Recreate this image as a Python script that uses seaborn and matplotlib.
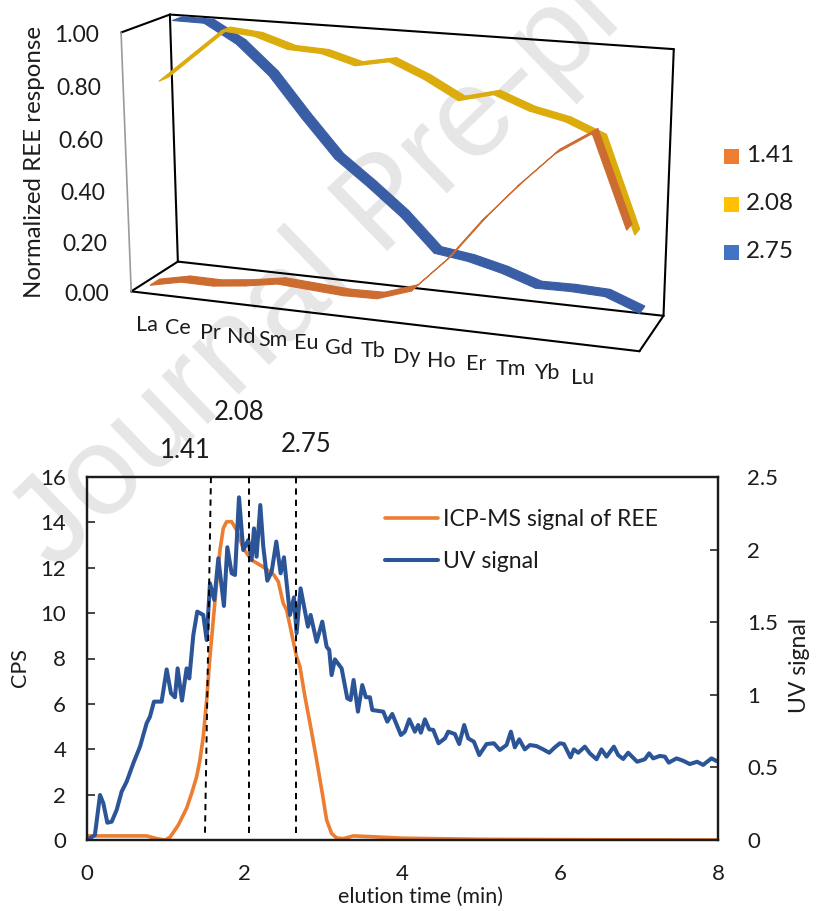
import numpy as np
import matplotlib
matplotlib.use("Agg")
import matplotlib.pyplot as plt
from matplotlib.patches import Rectangle
import seaborn as sns

# top chart data (15 positions along the axis, 14 labels shown)
elements = ["La", "Ce", "Pr", "Nd", "Sm", "Eu", "Gd", "Tb", "Dy", "Ho", "Er", "Tm", "Yb", "Lu"]
resp_141 = [0.023, 0.050, 0.049, 0.064, 0.086, 0.078, 0.070, 0.073, 0.117, 0.246, 0.407, 0.548, 0.676, 0.760, 0.427]
resp_208 = [0.790, 0.895, 1.000, 0.988, 0.948, 0.942, 0.906, 0.930, 0.876, 0.807, 0.839, 0.790, 0.762, 0.709, 0.372]
resp_275 = [1.000, 0.998, 0.927, 0.815, 0.660, 0.515, 0.418, 0.314, 0.185, 0.167, 0.135, 0.091, 0.093, 0.088, 0.038]
resp_ticks = [0.0, 0.2, 0.4, 0.6, 0.8, 1.0]

# bottom chart data
icp_time = [0, 0.756, 0.883, 0.989, 1.052, 1.158, 1.263, 1.327, 1.39, 1.432, 1.474, 1.517, 1.559, 1.601, 1.643, 1.686, 1.728,
            1.77, 1.834, 1.897, 1.981, 2.087, 2.214, 2.319, 2.37, 2.425, 2.488, 2.531, 2.657, 2.70, 2.763, 2.835, 2.911,
            2.983, 3.038, 3.101, 3.164, 3.249, 3.376, 3.587, 4.0, 5.0, 6.5, 8.0]
icp_cps = [0.18, 0.18, 0.06, 0, 0.12, 0.66, 1.40, 2.06, 2.79, 3.53, 4.55, 6.17, 8.08, 9.70, 11.31, 12.78, 13.74,
           14.03, 14.03, 13.66, 12.86, 12.34, 12.08, 11.83, 11.68, 11.39, 10.43, 10.14, 8.08, 7.64, 6.32, 5.0, 3.53,
           2.06, 0.88, 0.29, 0.09, 0.06, 0.18, 0.15, 0.08, 0.03, 0.01, 0.0]
uv_time = [0, 0.10, 0.165, 0.207, 0.258, 0.313, 0.376, 0.439, 0.503, 0.587, 0.672, 0.756, 0.798, 0.849, 0.946,
           1.010, 1.065, 1.115, 1.149, 1.204, 1.263, 1.297, 1.348, 1.398, 1.474, 1.517, 1.559, 1.614, 1.665,
           1.736, 1.779, 1.834, 1.876, 1.927, 1.981, 2.045, 2.087, 2.117, 2.150, 2.197, 2.235, 2.286, 2.341,
           2.400, 2.455, 2.497, 2.573, 2.624, 2.657, 2.708, 2.801, 2.835, 2.911, 2.983, 3.038, 3.071, 3.101,
           3.143, 3.228, 3.300, 3.342, 3.380, 3.435, 3.490, 3.536, 3.587, 3.617, 3.756, 3.807, 3.870, 3.980,
           4.030, 4.086, 4.157, 4.199, 4.233, 4.284, 4.339, 4.390, 4.457, 4.538, 4.580, 4.664, 4.719, 4.782,
           4.833, 4.905, 4.973, 5.066, 5.159, 5.234, 5.319, 5.374, 5.424, 5.480, 5.551, 5.615, 5.699, 5.784,
           5.860, 5.931, 5.995, 6.046, 6.130, 6.173, 6.228, 6.312, 6.375, 6.460, 6.523, 6.587, 6.680, 6.734,
           6.798, 6.861, 6.975, 7.072, 7.127, 7.178, 7.262, 7.326, 7.376, 7.474, 7.558, 7.642, 7.735, 7.811,
           7.917, 8.0]
uv_signal = [0, 0.034, 0.310, 0.253, 0.119, 0.126, 0.207, 0.333, 0.402, 0.528, 0.643, 0.804, 0.849, 0.953, 0.953,
             1.175, 1.010, 0.983, 1.182, 0.960, 1.182, 1.113, 1.412, 1.573, 1.550, 1.377, 1.768, 1.653, 1.940,
             1.612, 2.016, 1.837, 1.825, 2.360, 1.997, 2.066, 1.928, 2.146, 1.951, 2.307, 2.020, 1.786, 1.848,
             2.055, 1.837, 1.947, 1.550, 1.671, 1.424, 1.733, 1.469, 1.550, 1.365, 1.504, 1.331, 1.309, 1.136,
             1.244, 1.182, 0.976, 0.964, 1.102, 0.884, 1.067, 0.983, 0.983, 0.895, 0.884, 0.815, 0.868, 0.723,
             0.746, 0.831, 0.746, 0.792, 0.739, 0.831, 0.762, 0.758, 0.666, 0.700, 0.746, 0.730, 0.661, 0.792,
             0.700, 0.677, 0.585, 0.661, 0.666, 0.620, 0.654, 0.746, 0.638, 0.693, 0.624, 0.654, 0.647, 0.624,
             0.601, 0.638, 0.666, 0.661, 0.569, 0.624, 0.601, 0.643, 0.597, 0.556, 0.624, 0.574, 0.643, 0.585,
             0.558, 0.601, 0.539, 0.556, 0.597, 0.562, 0.579, 0.574, 0.533, 0.562, 0.546, 0.523, 0.539, 0.517,
             0.562, 0.539]

# frame corners of the 3d box in pixels: (x, value, depth) -> (px, py)
box_world = [(0, 0, 0), (0, 1, 0), (1, 0, 0), (1, 1, 0), (0, 0, 1), (0, 1, 1), (1, 0, 1), (1, 1, 1)]
box_px = [(131, 291), (121, 32), (640, 351), (649, 72), (178, 262), (170, 15), (663, 316), (674, 48)]

# perspective matrix fitted to the box corners
rows, rhs = [], []
for (X, Y, Z), (u, v) in zip(box_world, box_px):
    rows.append([X, Y, Z, 1, 0, 0, 0, 0, -u * X, -u * Y, -u * Z])
    rows.append([0, 0, 0, 0, X, Y, Z, 1, -v * X, -v * Y, -v * Z])
    rhs += [u, v]
p = np.linalg.lstsq(np.array(rows, float), np.array(rhs, float), rcond=None)[0]


def project(x, val, depth):
    w = p[8] * x + p[9] * val + p[10] * depth + 1
    return ((p[0] * x + p[1] * val + p[2] * depth + p[3]) / w,
            (p[4] * x + p[5] * val + p[6] * depth + p[7]) / w)


def ribbon(ax, values, depth, half, color):
    n = len(values)
    for i in range(n - 1):
        x0, x1 = (i + 0.5) / n, (i + 1.5) / n
        quad = [project(x0, values[i], depth - half), project(x1, values[i + 1], depth - half),
                project(x1, values[i + 1], depth + half), project(x0, values[i], depth + half)]
        ax.fill(*zip(*quad), facecolor=color, edgecolor=color, lw=0.8, zorder=3)


sns.set_theme(style="white")
plt.rcParams["font.family"] = ["Lato", "DejaVu Sans"]
text_color = "#1c1c1c"

fig = plt.figure(figsize=(8.17, 9.11), dpi=100)
canvas = fig.add_axes([0, 0, 1, 1], zorder=0)
canvas.set_xlim(0, 817)
canvas.set_ylim(911, 0)
canvas.axis("off")

# watermark
canvas.text(55, 572, "Journal Pre-proof", rotation=44, rotation_mode="anchor", ha="left", va="baseline",
            fontsize=91.5, family="Liberation Sans", color="#e6e6e6", zorder=1)

# box frame
edges = [(4, 5), (5, 7), (7, 6), (6, 4), (5, 1), (0, 4), (0, 2), (2, 6)]
for a, b in edges:
    pts = [project(*box_world[a]), project(*box_world[b])]
    canvas.plot(*zip(*pts), color="black", lw=1.5, zorder=2, solid_capstyle="round")
pts = [project(*box_world[0]), project(*box_world[1])]
canvas.plot(*zip(*pts), color="#9a9a9a", lw=1.2, zorder=2)

# back to front so the nearer series covers the others
ribbon(canvas, resp_275, 0.83, 0.11, "#3a5ea6")
ribbon(canvas, resp_208, 0.50, 0.10, "#dcab0c")
ribbon(canvas, resp_141, 0.17, 0.10, "#cd6c30")

for t in resp_ticks:
    px, py = project(0, t, 0)
    canvas.text(px - 22, py + 3, f"{t:.2f}", ha="right", va="center", fontsize=16.5, color=text_color)
canvas.text(35, 162, "Normalized REE response", rotation=90, ha="center", va="center", fontsize=17.3, color=text_color)

label_x = [147, 178, 210, 241, 273, 306, 339, 373, 407, 441, 476, 511, 547, 583]
label_y = [325, 328, 333, 337, 340, 343, 348, 351, 357, 361, 364, 369, 373, 378]
for name, lx, ly in zip(elements, label_x, label_y):
    canvas.text(lx, ly, name, ha="center", va="center", fontsize=15.5, color=text_color)

# legend of the top chart
for name, color, ly in zip(["1.41", "2.08", "2.75"], ["#ED7D31", "#FFC000", "#4472C4"], [156, 204, 252]):
    canvas.add_patch(Rectangle((724, ly - 7.5), 15, 15, facecolor=color, edgecolor="none"))
    canvas.text(746, ly, name, ha="left", va="center", fontsize=17.5, color=text_color)

# peak labels above the bottom chart
for name, lx, ly in zip(["1.41", "2.08", "2.75"], [185, 239, 306], [450, 413, 444]):
    canvas.text(lx, ly, name, ha="center", va="center", fontsize=18.5, color=text_color)

# bottom chart
ax = fig.add_axes([87 / 817, (911 - 840) / 911, 631 / 817, 363 / 911], zorder=1)
ax.patch.set_visible(False)
sns.lineplot(x=icp_time, y=icp_cps, ax=ax, color="#ED7D31", lw=2.6, estimator=None, sort=False, solid_joinstyle="round")
ax.set_xlim(0, 8)
ax.set_ylim(0, 16)
ax.set_xticks([0, 2, 4, 6, 8])
ax.set_yticks(range(0, 17, 2))
ax.set_xlabel("elution time (min)", fontsize=15.5, color=text_color)
ax.xaxis.set_label_coords((420 - 87) / 631, -(897 - 840) / 363, transform=ax.transAxes)
ax.xaxis.label.set_va("center")
ax.set_ylabel("CPS", fontsize=15.5, color=text_color)
ax.yaxis.set_label_coords((20 - 87) / 631, (840 - 668) / 363, transform=ax.transAxes)
ax.yaxis.label.set_va("center")
ax.tick_params(axis="y", direction="in", length=6, width=1.2, left=True, labelsize=16, labelcolor=text_color, pad=15)
ax.tick_params(axis="x", length=0, labelsize=16, labelcolor=text_color, pad=17)

ax2 = ax.twinx()
ax2.patch.set_visible(False)
sns.lineplot(x=uv_time, y=uv_signal, ax=ax2, color="#2b5597", lw=2.9, estimator=None, sort=False, solid_joinstyle="round")
ax2.set_ylim(0, 2.5)
ax2.set_yticks([0, 0.5, 1, 1.5, 2, 2.5])
ax2.set_yticklabels(["0", "0.5", "1", "1.5", "2", "2.5"])
ax2.set_ylabel("UV signal", fontsize=16.5, color=text_color, rotation=90)
ax2.yaxis.set_label_coords((800 - 87) / 631, (840 - 665) / 363, transform=ax2.transAxes)
ax2.yaxis.label.set_va("center")
ax2.tick_params(axis="y", direction="in", length=6, width=1.2, right=True, labelsize=16, labelcolor=text_color, pad=21)

for a in (ax, ax2):
    for spine in a.spines.values():
        spine.set_color("#1c1c1c")
        spine.set_linewidth(1.6)
        spine.set_visible(True)

# dashed markers for the three fractions
dash_bottom = [1.496, 2.053, 2.649]
dash_top = [1.572, 2.053, 2.649]
for x0, x1 in zip(dash_bottom, dash_top):
    ax2.plot([x0, x1], [0.05, 2.515], color="black", lw=1.4, ls=(0, (3.2, 2.6)), clip_on=False, zorder=5)

handles = [ax.get_lines()[0], ax2.get_lines()[0]]
ax2.legend(handles, ["ICP-MS signal of REE", "UV signal"], loc="upper left", bbox_to_anchor=(385 / 817, 1 - 509.5 / 911),
           bbox_transform=fig.transFigure, frameon=False, borderpad=0, borderaxespad=0, fontsize=16.6,
           handlelength=2.3, handletextpad=0.2, labelspacing=0.9, labelcolor=text_color)

plt.savefig("out.png", dpi=100)
